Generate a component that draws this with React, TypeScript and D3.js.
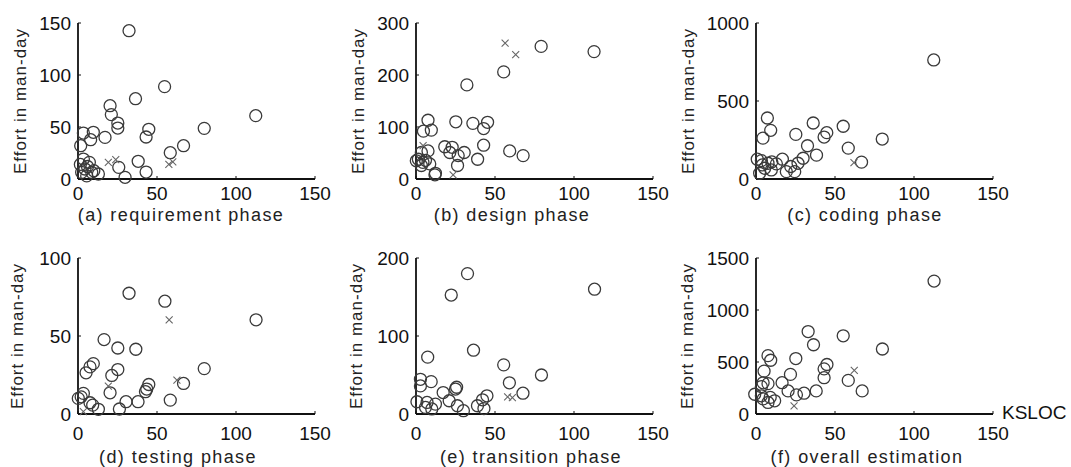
import React from 'react'
import * as d3 from 'd3'

// KSLOC vs effort (man-day), one list of [ksloc, effort] per phase
const reqCircles = [
	[32.3, 142.6], [54.8, 88.8], [36.4, 77.2], [20.3, 70.5], [21.1, 61.9], [25.2, 53.8], [25.2, 49],
	[44.8, 47.8], [43.1, 40.4], [112.5, 60.9], [79.9, 48.7], [66.8, 32], [58.4, 25.3], [38.1, 17],
	[25.8, 11.2], [43.1, 6.7], [29.8, 1.6], [17.1, 40], [9.7, 44.9], [8, 37.8], [3.4, 44.2], [1.7, 32],
	[3.4, 19.2], [7.2, 16], [4.4, 9.6], [8.7, 6.4], [12.9, 4.8], [2.3, 6.4], [5.5, 3], [1.5, 14], [6, 12], [10, 8],
]
const reqCrosses = [[19.2, 16], [23.9, 18.6], [57.5, 14], [60, 16.5]]

const designCircles = [
	[79.2, 255], [112.7, 245], [55.5, 206], [32.2, 181], [7.6, 113], [4.7, 92], [9.7, 94], [25.2, 110],
	[36, 107], [42.8, 97], [45.3, 109], [42.8, 65], [39, 38], [59.3, 54], [67.8, 45], [18.2, 62],
	[22.9, 61], [21.4, 51], [30.5, 51], [26.7, 45], [26.3, 26], [7.6, 54], [3.4, 51], [0.2, 35],
	[4.4, 32], [8.7, 29], [3.4, 26], [12.3, 11], [12, 8], [1.5, 38], [6, 36],
]
const designCrosses = [[56.4, 261.5], [63.1, 239], [23.5, 8], [4.5, 64]]

const codingCircles = [
	[112.5, 763], [79.9, 256], [7.2, 391], [9.3, 312], [4.4, 262], [36.2, 359], [55.2, 338], [25.2, 286],
	[44.8, 297], [43.1, 269], [58.4, 198], [66.8, 108], [32.6, 213], [38.3, 153], [29.8, 133], [26.6, 101],
	[24.5, 47], [22, 80], [16.7, 127], [12.9, 97], [7.6, 101], [3.4, 118], [0.8, 127], [5.5, 69],
	[2.3, 37], [9.7, 58], [19.2, 47], [4, 90], [10, 110],
]
const codingCrosses = [[62, 105]]

const testCircles = [
	[32.3, 77.4], [55, 72.3], [112.7, 60.4], [16.5, 47.7], [25.2, 42.3], [36.6, 41.5], [79.9, 29.1],
	[25.2, 28.5], [21.4, 24.7], [9.7, 32.3], [7.6, 30.2], [5.1, 26.4], [20.3, 13.6], [66.8, 19.6],
	[44.8, 18.9], [42.7, 14.3], [43.5, 16], [58.4, 8.9], [38, 7.9], [30.4, 7.9], [26.2, 3.2], [3.4, 13.2],
	[0.2, 10], [7.6, 7.2], [9.3, 5.7], [12.9, 3], [2, 11],
]
const testCrosses = [[57.7, 60.4], [62.6, 21.7], [19.2, 17.9], [3.4, 1.5]]

const transCircles = [
	[32.6, 180], [22.3, 152.5], [113, 160], [36.4, 81.8], [7.4, 72.9], [55.5, 63], [79.4, 50], [59.1, 40],
	[67.7, 26.7], [25.7, 34.3], [25, 32], [17.2, 27.5], [21, 17], [26.2, 10.6], [44.9, 23.3], [42.1, 18.2],
	[38.9, 10.6], [43, 7], [2.8, 44.5], [9.6, 41.5], [2.8, 36], [0.6, 15.7], [7, 14.8], [12.3, 12.7],
	[6, 8.5], [10, 6.5], [30, 4.2],
]
const transCrosses = [[58, 22], [61, 21]]

const overallCircles = [
	[112.7, 1278], [33, 793], [36.4, 666], [55.2, 752], [80, 625], [7.6, 561], [9.3, 517], [25.2, 533],
	[44.9, 476], [43.1, 434], [43.1, 349], [58.4, 323], [67.2, 222], [38.1, 222], [21.8, 381], [16.5, 301],
	[5.1, 412], [4.5, 300], [7.6, 292], [20.3, 222], [25.6, 184], [30.4, 200], [-0.8, 190], [3.4, 175],
	[11.8, 127], [7.6, 111], [4.5, 145], [3.4, 263], [9, 160],
]
const overallCrosses = [[62.2, 419], [24.1, 79]]

const xTicks = [0, 50, 100, 150]

const panels = [
	{title: '(a) requirement phase', yMax: 150, yTicks: [0, 50, 100, 150], circles: reqCircles, crosses: reqCrosses},
	{title: '(b) design phase', yMax: 300, yTicks: [0, 100, 200, 300], circles: designCircles, crosses: designCrosses},
	{title: '(c) coding phase', yMax: 1000, yTicks: [0, 500, 1000], circles: codingCircles, crosses: codingCrosses},
	{title: '(d) testing phase', yMax: 100, yTicks: [0, 50, 100], circles: testCircles, crosses: testCrosses},
	{title: '(e) transition phase', yMax: 200, yTicks: [0, 100, 200], circles: transCircles, crosses: transCrosses},
	{title: '(f) overall estimation', yMax: 1500, yTicks: [0, 500, 1000, 1500], circles: overallCircles, crosses: overallCrosses},
]

// layout of the 2x3 grid
const colLeft = [78, 416, 756]
const rowTop = [23, 258]
const rowBottom = [179, 414]
const plotW = 237
const tickDy = [14, 19]
const titleDy = [36, 43]
const titleX = [181, 512, 865, 178, 531, 867]
const labelDx = [58, 58, 68, 61, 60, 69]

const font = '"Liberation Sans", Arial, sans-serif'

function Panel({p, i}) {
	const col = i % 3
	const row = Math.floor(i / 3)
	const left = colLeft[col]
	const top = rowTop[row]
	const bottom = rowBottom[row]
	const x = d3.scaleLinear().domain([0, 150]).range([left, left + plotW])
	const y = d3.scaleLinear().domain([0, p.yMax]).range([bottom, top])

	return (
		<g>
			{/* axes */}
			<line x1={left} x2={left} y1={top} y2={bottom} stroke="#111" strokeWidth={1.8}/>
			<line x1={left} x2={left + plotW} y1={bottom} y2={bottom} stroke="#111" strokeWidth={1.8}/>
			{p.yTicks.map(t => (
				<g key={`y-${t}`}>
					<line x1={left} x2={left + 3} y1={y(t)} y2={y(t)} stroke="#111" strokeWidth={1}/>
					<text x={left - 7} y={y(t)} dy="0.35em" textAnchor="end" fontSize={19} fontFamily={font} fill="#111">{t}</text>
				</g>
			))}
			{xTicks.map(t => (
				<g key={`x-${t}`}>
					<line x1={x(t)} x2={x(t)} y1={bottom} y2={bottom - 3} stroke="#111" strokeWidth={1}/>
					<text x={x(t)} y={bottom + tickDy[row]} dy="0.35em" textAnchor="middle" fontSize={19} fontFamily={font} fill="#111">{t}</text>
				</g>
			))}
			<text
				transform={`translate(${left - labelDx[i]}, ${(top + bottom) / 2}) rotate(-90)`}
				textAnchor="middle" dy="0.35em" fontSize={17} letterSpacing={1} fontFamily={font} fill="#222"
			>Effort in man-day</text>
			<text x={titleX[i]} y={bottom + titleDy[row]} dy="0.35em" textAnchor="middle" fontSize={18} letterSpacing={1.4} fontFamily={font} fill="#222">{p.title}</text>

			{p.circles.map(([a, b], k) => (
				<circle key={`c-${k}`} cx={x(a)} cy={y(b)} r={6} fill="none" stroke="#3a3a3a" strokeWidth={1.3}/>
			))}
			{p.crosses.map(([a, b], k) => (
				<path key={`m-${k}`} d={`M${x(a) - 3.5},${y(b) - 3.5}L${x(a) + 3.5},${y(b) + 3.5}M${x(a) - 3.5},${y(b) + 3.5}L${x(a) + 3.5},${y(b) - 3.5}`}
					stroke="#666" strokeWidth={1.1} fill="none"/>
			))}
		</g>
	)
}

export default function App() {
	return (
		<svg width={1071} height={467} style={{position: 'absolute', left: 0, top: 0, background: '#fff'}}>
			{panels.map((p, i) => <Panel key={i} p={p} i={i}/>)}
			<text x={1002} y={419} fontSize={19} fontFamily={font} fill="#111">KSLOC</text>
		</svg>
	)
}
